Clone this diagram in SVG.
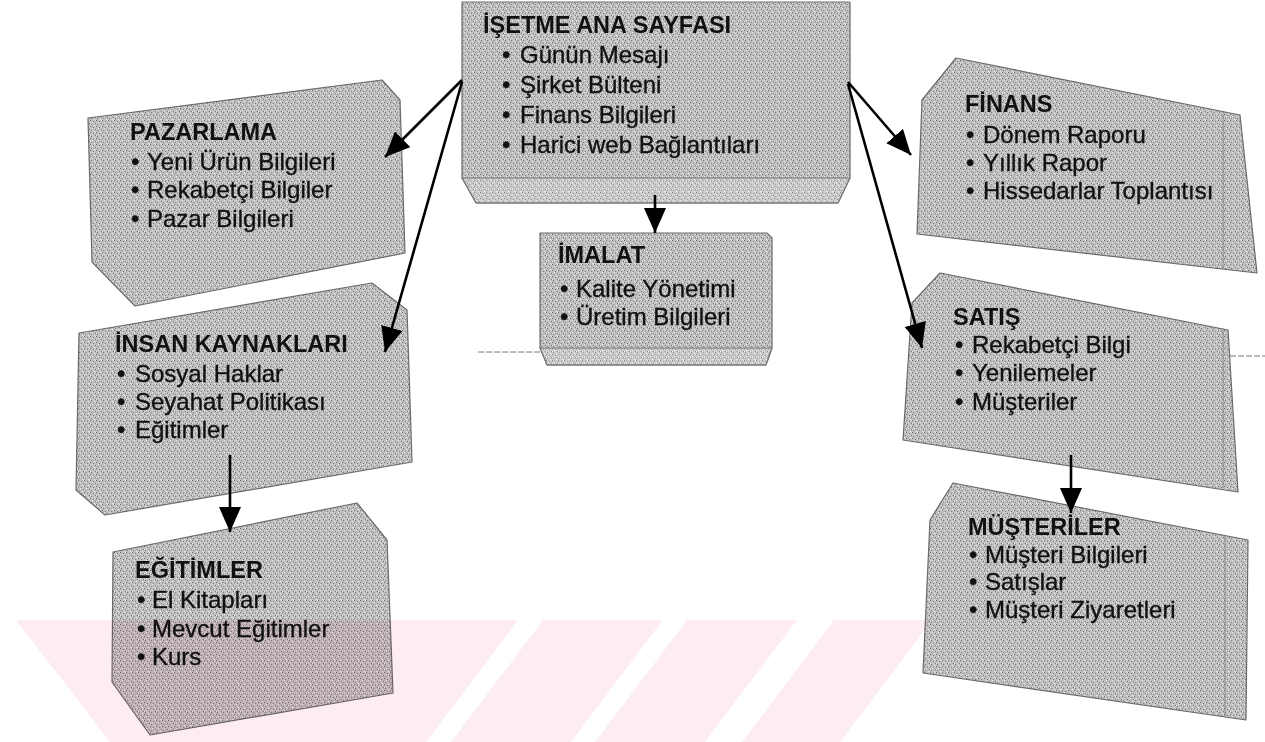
<svg xmlns="http://www.w3.org/2000/svg" width="1265" height="742" viewBox="0 0 1265 742">
<defs>
<pattern id="dither" width="6" height="6" patternUnits="userSpaceOnUse">
<rect width="6" height="6" fill="#bfbfbf"/>
<rect x="0" y="0" width="1" height="1" fill="#6f6f6f"/>
<rect x="3" y="1" width="1" height="1" fill="#7d7d7d"/>
<rect x="5" y="3" width="1" height="1" fill="#737373"/>
<rect x="1" y="4" width="1" height="1" fill="#808080"/>
<rect x="2" y="2" width="1" height="1" fill="#e8e8e8"/>
<rect x="4" y="5" width="1" height="1" fill="#eeeeee"/>
<rect x="5" y="0" width="1" height="1" fill="#dddddd"/>
<rect x="0" y="3" width="1" height="1" fill="#e4e4e4"/>
</pattern>
<marker id="arrow" markerUnits="userSpaceOnUse" markerWidth="26" markerHeight="24" refX="25" refY="11" orient="auto">
<path d="M0,0 L25,11 L0,22 Z" fill="#000"/>
</marker>
<style>
.box{fill:url(#dither);stroke:#6a6a6a;stroke-width:1.2;stroke-linejoin:round}
.face{fill:#ffffff;fill-opacity:0.18;stroke:#777;stroke-width:1}
.edge{stroke:#8a8a8a;stroke-width:1;fill:none}
.t{font-family:"Liberation Sans",Arial,sans-serif;font-weight:bold;font-size:23.5px;fill:#111}
.i{font-family:"Liberation Sans",Arial,sans-serif;font-size:24px;fill:#111;stroke:#111;stroke-width:0.35}
.conn{stroke:#000;stroke-width:2.6;fill:none;marker-end:url(#arrow)}
.scan{stroke:#777;stroke-width:1;stroke-dasharray:6 2;fill:none}
.wm{fill:#fdedf0;mix-blend-mode:multiply}
</style>
</defs>

<rect width="1265" height="742" fill="#fff"/>

<g id="node-anasayfa">
<path class="box" d="M462,2 L850,2 L850,178 L838,203 L476,203 L462,178 Z"/>
<path class="face" d="M462,178 L850,178 L838,203 L476,203 Z"/>
<text class="t" x="483" y="33">İŞETME ANA SAYFASI</text>
<text class="i" y="63"><tspan x="502">•</tspan><tspan x="520">Günün Mesajı</tspan></text>
<text class="i" y="93"><tspan x="502">•</tspan><tspan x="520">Şirket Bülteni</tspan></text>
<text class="i" y="123"><tspan x="502">•</tspan><tspan x="520">Finans Bilgileri</tspan></text>
<text class="i" y="153"><tspan x="502">•</tspan><tspan x="520">Harici web Bağlantıları</tspan></text>
</g>

<g id="node-pazarlama">
<path class="box" d="M88,118 L382,80 L400,100 L405,253 L135,306 L92,262 Z"/>
<text class="t" x="130" y="140">PAZARLAMA</text>
<text class="i" y="170"><tspan x="131">•</tspan><tspan x="147">Yeni Ürün Bilgileri</tspan></text>
<text class="i" y="198"><tspan x="131">•</tspan><tspan x="147">Rekabetçi Bilgiler</tspan></text>
<text class="i" y="227"><tspan x="131">•</tspan><tspan x="147">Pazar Bilgileri</tspan></text>
</g>

<g id="node-insan">
<path class="box" d="M79,333 L372,283 L407,310 L412,462 L105,515 L76,490 Z"/>
<text class="t" x="115" y="352">İNSAN KAYNAKLARI</text>
<text class="i" y="382"><tspan x="117">•</tspan><tspan x="135">Sosyal Haklar</tspan></text>
<text class="i" y="410"><tspan x="117">•</tspan><tspan x="135">Seyahat Politikası</tspan></text>
<text class="i" y="438"><tspan x="117">•</tspan><tspan x="135">Eğitimler</tspan></text>
</g>

<g id="node-egitimler">
<path class="box" d="M113,552 L357,503 L387,540 L393,693 L150,735 L112,682 Z"/>
<text class="t" x="135" y="578">EĞİTİMLER</text>
<text class="i" y="608"><tspan x="137">•</tspan><tspan x="152">El Kitapları</tspan></text>
<text class="i" y="637"><tspan x="137">•</tspan><tspan x="152">Mevcut Eğitimler</tspan></text>
<text class="i" y="665"><tspan x="137">•</tspan><tspan x="152">Kurs</tspan></text>
</g>

<g id="node-imalat">
<path class="box" d="M540,233 L767,233 L772,238 L772,348 L766,365 L547,365 L540,348 Z"/>
<path class="face" d="M540,348 L772,348 L766,365 L547,365 Z"/>
<text class="t" x="558" y="263">İMALAT</text>
<text class="i" y="297"><tspan x="560">•</tspan><tspan x="576">Kalite Yönetimi</tspan></text>
<text class="i" y="325"><tspan x="560">•</tspan><tspan x="576">Üretim Bilgileri</tspan></text>
</g>

<g id="node-finans">
<path class="box" d="M922,100 L956,58 L1240,115 L1257,273 L917,234 Z"/>
<path class="edge" d="M1223,112 L1223,268"/>
<text class="t" x="965" y="112">FİNANS</text>
<text class="i" y="143"><tspan x="966">•</tspan><tspan x="983">Dönem Raporu</tspan></text>
<text class="i" y="171"><tspan x="966">•</tspan><tspan x="983">Yıllık Rapor</tspan></text>
<text class="i" y="199"><tspan x="966">•</tspan><tspan x="983">Hissedarlar Toplantısı</tspan></text>
</g>

<g id="node-satis">
<path class="box" d="M912,303 L940,273 L1228,330 L1238,492 L903,440 Z"/>
<path class="edge" d="M1223,328 L1223,488"/>
<text class="t" x="953" y="325">SATIŞ</text>
<text class="i" y="353"><tspan x="955">•</tspan><tspan x="972">Rekabetçi Bilgi</tspan></text>
<text class="i" y="381"><tspan x="955">•</tspan><tspan x="972">Yenilemeler</tspan></text>
<text class="i" y="410"><tspan x="955">•</tspan><tspan x="972">Müşteriler</tspan></text>
</g>

<g id="node-musteriler">
<path class="box" d="M930,520 L953,483 L1248,540 L1246,720 L923,673 Z"/>
<path class="edge" d="M1225,536 L1225,716"/>
<text class="t" x="968" y="535">MÜŞTERİLER</text>
<text class="i" y="563"><tspan x="969">•</tspan><tspan x="985">Müşteri Bilgileri</tspan></text>
<text class="i" y="590"><tspan x="969">•</tspan><tspan x="985">Satışlar</tspan></text>
<text class="i" y="618"><tspan x="969">•</tspan><tspan x="985">Müşteri Ziyaretleri</tspan></text>
</g>

<g id="scan-lines">
<path class="scan" d="M478,352 L541,352"/>
<path class="scan" d="M1230,356 L1265,356"/>
</g>

<g id="connectors">
<line class="conn" x1="462" y1="80" x2="385" y2="157"/>
<line class="conn" x1="462" y1="82" x2="385" y2="352"/>
<line class="conn" x1="655" y1="195" x2="655" y2="233"/>
<line class="conn" x1="848" y1="82" x2="911" y2="155"/>
<line class="conn" x1="848" y1="84" x2="922" y2="348"/>
<line class="conn" x1="230" y1="455" x2="230" y2="532"/>
<line class="conn" x1="1071" y1="455" x2="1071" y2="513"/>
</g>

<g id="watermark">
<polygon class="wm" points="16,620 518,620 426,742 110,742"/>
<polygon class="wm" points="543,620 663,620 571,742 451,742"/>
<polygon class="wm" points="687,620 797,620 705,742 595,742"/>
<polygon class="wm" points="834,620 932,620 840,742 742,742"/>
</g>
</svg>
